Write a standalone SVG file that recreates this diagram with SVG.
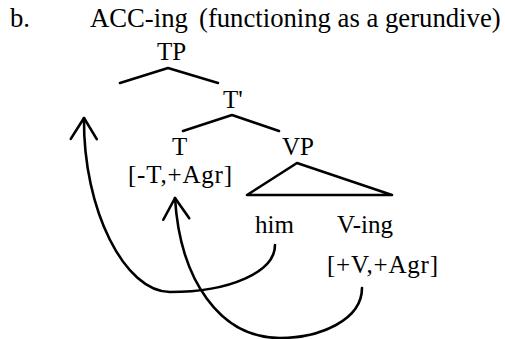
<svg xmlns="http://www.w3.org/2000/svg" width="505" height="339" viewBox="0 0 505 339">
<defs>
<style>
.h{font-size:26.7px;}
.t{font-size:25px;}
.ln{fill:none;stroke:#000;stroke-width:2.6;stroke-linecap:round;stroke-linejoin:round;}
</style>
<marker id="vh" markerUnits="userSpaceOnUse" orient="auto" markerWidth="30" markerHeight="30" refX="0" refY="0" overflow="visible">
<path d="M -21 -13 L 0 0 L -21 13" fill="none" stroke="#000" stroke-width="2.6" stroke-linecap="round" stroke-linejoin="round"/>
</marker>
</defs>
<rect width="505" height="339" fill="#fff"/>
<g font-family="'Liberation Serif', 'Times New Roman', 'DejaVu Serif', serif" fill="#000">
<g id="title">
<text class="h" x="10" y="27">b.</text>
<text class="h" x="90" y="27">ACC-ing</text>
<text class="h" x="199" y="27">(functioning as a gerundive)</text>
</g>
<g id="TP">
<text class="t" x="157" y="60">TP</text>
<polyline class="ln" points="120,83 168,68 218,83"/>
</g>
<g id="Tbar">
<text class="t" x="223" y="108">T'</text>
<polyline class="ln" points="183,131 232,115 279,131"/>
</g>
<g id="T">
<text class="t" x="172" y="155">T</text>
<text class="t" x="128" y="183" textLength="104">[-T,+Agr]</text>
</g>
<g id="VP">
<text class="t" x="282" y="155">VP</text>
<polygon class="ln" points="297,163 247,195 392,195"/>
</g>
<g id="him">
<text class="t" x="255" y="233">him</text>
</g>
<g id="Ving">
<text class="t" x="337" y="233">V-ing</text>
<text class="t" x="327" y="273" textLength="111">[+V,+Agr]</text>
</g>
</g>
<g id="connectors">
<path class="ln" d="M 275 245 C 275 272, 230 292, 170 292 C 125 292, 83 210, 84 118" marker-end="url(#vh)"/>
<path class="ln" d="M 362 288 C 362 320, 320 338, 280 338 C 220 338, 180 280, 175 198" marker-end="url(#vh)"/>
</g>
</svg>
